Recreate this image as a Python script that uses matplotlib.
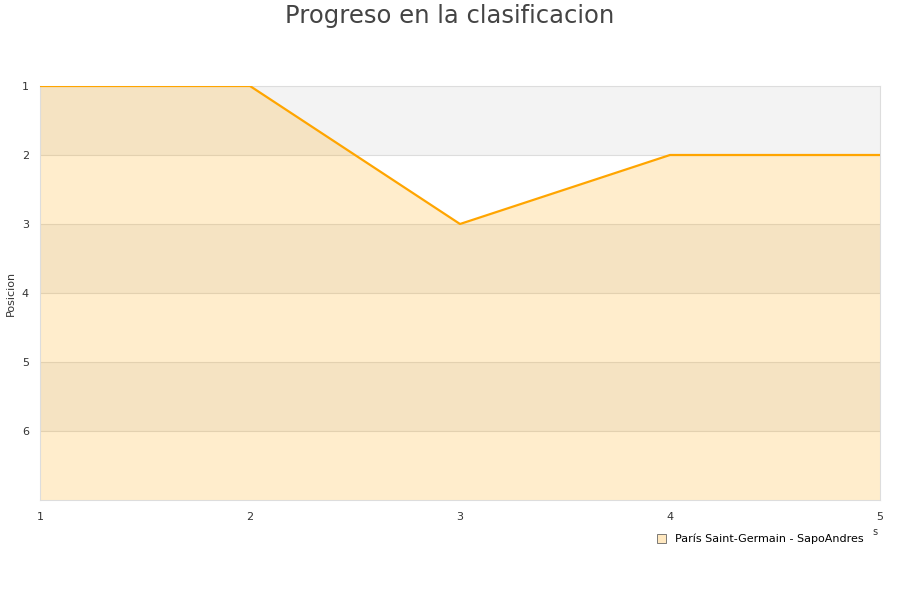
import matplotlib.pyplot as plt
from matplotlib.patches import Patch

jornadas = [1, 2, 3, 4, 5]
posicion = [1, 1, 3, 2, 2]
equipo = 'París Saint-Germain - SapoAndres'
y_ticks = [1, 2, 3, 4, 5, 6]
y_fondo = 7

fig = plt.figure(figsize=(9, 6), dpi=100)
ax = fig.add_axes([40/900, 1-500/600, 840/900, 414/600])

# bandas grises alternas
for y0 in range(1, y_fondo, 2):
    ax.axhspan(y0, y0+1, color='#f3f3f3', lw=0, zorder=0)
for y in y_ticks[1:]:
    ax.axhline(y, color='#dddddd', lw=0.8, zorder=1)

ax.fill_between(jornadas, posicion, y_fondo, color='#ffa500', alpha=0.2, lw=0, zorder=2)
ax.plot(jornadas, posicion, color='#ffa500', lw=1.6, zorder=3)

ax.set_xlim(1, 5)
ax.set_ylim(y_fondo, 1)
ax.set_xticks(jornadas)
ax.set_yticks(y_ticks)
ax.tick_params(length=0, labelsize=8, labelcolor='#333333')
ax.tick_params(axis='y', pad=8)
ax.tick_params(axis='x', pad=9)
for s in ax.spines.values():
    s.set_color('#dddddd')
    s.set_linewidth(0.8)

fig.text(11/900, 1-293/600, 'Posicion', rotation=90, ha='center', va='center',
         fontsize=8, color='#333333')
fig.text(0.5, 1-16/600, 'Progreso en la clasificacion', ha='center', va='center',
         fontsize=17.5, color='#444444')
fig.text(875/900, 1-532/600, 's', ha='center', va='center', fontsize=7, color='#333333')

leg = fig.legend(handles=[Patch(facecolor='#ffe8c0', edgecolor='#666666', lw=0.6, label=equipo)],
                 loc='center', bbox_to_anchor=(760/900, 1-539/600), frameon=False,
                 fontsize=8, handlelength=0.8, handleheight=0.8, handletextpad=0.8)

fig.savefig('out.png', dpi=100)
